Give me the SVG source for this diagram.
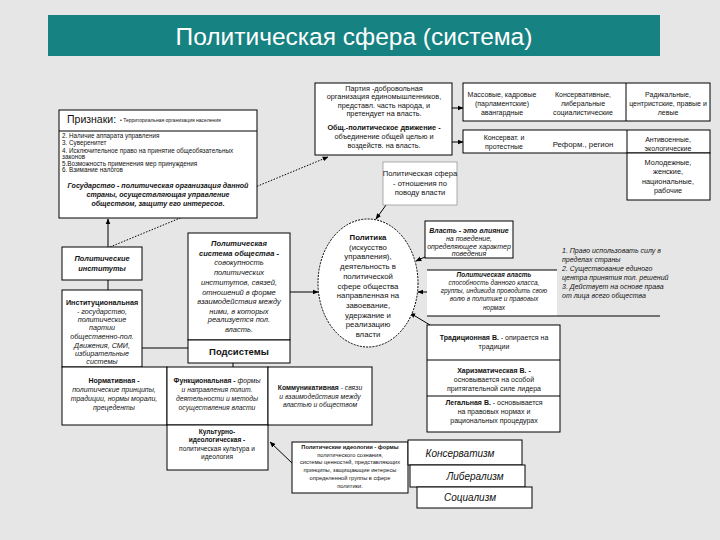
<svg xmlns="http://www.w3.org/2000/svg" width="720" height="540" viewBox="0 0 720 540">
<defs>
<marker id="ah" viewBox="0 0 10 10" refX="9" refY="5" markerWidth="6" markerHeight="6" orient="auto"><path d="M0,1 L10,5 L0,9 z" fill="#000"/></marker>
<style>
.b{fill:#fff;stroke:#000;stroke-width:1}
.w{fill:#fff;stroke:none}
.l{stroke:#000;stroke-width:1;fill:none}
.a{stroke:#000;stroke-width:1;fill:none;marker-end:url(#ah)}
.dt{stroke-dasharray:1.5,1.5}
text{font-family:"Liberation Sans",Arial,sans-serif;fill:#111}
.t{font-size:7px;text-anchor:middle}
.s{font-size:6.5px}
.i{font-style:italic}
.bd{font-weight:bold}
</style>
</defs>
<rect width="720" height="540" fill="#e6e6e6"/>
<g id="title">
<rect x="48" y="15" width="612" height="41" fill="#178282"/>
<text x="354" y="45" font-size="24.5" style="fill:#fff" text-anchor="middle">Политическая сфера (система)</text>
</g>
<g id="connectors">
<path class="a dt" d="M110,247 L328,157"/>
<path class="a" d="M452,108 L463,108"/>
<path class="a" d="M452,142 L463,142"/>
<path class="a" d="M108,247 L108,219"/>
<path class="l" d="M108,280 L108,290"/>
<path class="l" d="M142,348 L188,348"/>
<path class="a" d="M290,292 L318,292"/>
<path class="l" d="M233,363 L233,367"/>
<path class="a" d="M386,205 L376,219"/>
<path class="a" d="M425,257 L416,261"/>
<path class="a" d="M427,292 L418,292"/>
<path class="a" d="M430,325 L410,313"/>
<path class="a" d="M292,463 L270,442"/>
</g>
<g id="party">
<rect class="b" x="315" y="83" width="137" height="72"/>
<text class="t" style="font-size:7.3px"><tspan x="384" y="90.5">Партия -добровольная</tspan><tspan x="384" y="99">организация единомышленников,</tspan><tspan x="384" y="107.5">представл. часть народа, и</tspan><tspan x="384" y="115.5">претендует на власть.</tspan><tspan x="384" y="129.5" font-weight="bold">Общ.-политическое движение -</tspan><tspan x="384" y="138.5">объединение общей целью и</tspan><tspan x="384" y="148">воздейств. на власть.</tspan></text>
</g>
<g id="party-types">
<rect class="b" x="463" y="83" width="247" height="38"/>
<path class="l" d="M626,83 L626,121"/>
<text class="t"><tspan x="502" y="97">Массовые, кадровые</tspan><tspan x="502" y="106">(парламентские)</tspan><tspan x="502" y="115">авангардные</tspan></text>
<text class="t"><tspan x="583" y="97">Консервативные,</tspan><tspan x="583" y="106">либеральные</tspan><tspan x="583" y="115">социалистические</tspan></text>
<text class="t"><tspan x="668" y="97">Радикальные,</tspan><tspan x="668" y="106">центристские, правые и</tspan><tspan x="668" y="115">левые</tspan></text>
</g>
<g id="movement-types">
<rect class="b" x="463" y="130" width="247" height="23"/>
<path class="l" d="M627,130 L627,153"/>
<text class="t"><tspan x="504" y="140">Консерват. и</tspan><tspan x="504" y="149">протестные</tspan></text>
<text class="t" style="font-size:7.8px"><tspan x="583" y="147">Реформ., регион</tspan></text>
<text class="t"><tspan x="668" y="142">Антивоенные,</tspan><tspan x="668" y="151">экологические</tspan></text>
<rect class="b" x="627" y="153" width="83" height="47"/>
<text class="t" style="font-size:7.3px"><tspan x="668" y="165">Молодежные,</tspan><tspan x="668" y="174">женские,</tspan><tspan x="668" y="184">национальные,</tspan><tspan x="668" y="193">рабочие</tspan></text>
</g>
<g id="sphere">
<rect x="383" y="162" width="74" height="43" fill="#fff" stroke="#999" stroke-width="0.8"/>
<text class="t" style="font-size:7.6px"><tspan x="420" y="176">Политическая сфера</tspan><tspan x="420" y="186">- отношения по</tspan><tspan x="420" y="195">поводу власти</tspan></text>
</g>
<g id="signs">
<rect class="b" x="59" y="110" width="198" height="108"/>
<path class="l" d="M59,131 L257,131"/>
<text x="67" y="123" font-size="10.5">Признаки:</text>
<text x="120" y="122" font-size="5">•  Территориальная организация населения</text>
<text class="s" style="font-size:6.3px"><tspan x="62" y="137.5">2. Наличие аппарата управления</tspan><tspan x="62" y="145">3. Суверенитет</tspan><tspan x="62" y="152.5">4. Исключительное право на принятие общеобязательных</tspan><tspan x="62" y="159">законов</tspan><tspan x="62" y="165.5">5.Возможность применения мер принуждения</tspan><tspan x="62" y="172">6. Взимание налогов</tspan></text>
<text class="t i bd" style="font-size:7.1px"><tspan x="158" y="188">Государство - политическая организация данной</tspan><tspan x="158" y="197">страны, осуществляющая управление</tspan><tspan x="158" y="206">обществом, защиту его интересов.</tspan></text>
</g>
<g id="institutes">
<rect class="b" x="62" y="247" width="80" height="33"/>
<text class="t i bd" style="font-size:7.4px"><tspan x="102" y="261">Политические</tspan><tspan x="102" y="271">институты</tspan></text>
</g>
<g id="institutional">
<rect class="b" x="62" y="290" width="80" height="77"/>
<text class="t" style="font-size:7.2px"><tspan x="102" y="304.5" font-weight="bold">Институциональная</tspan><tspan x="102" y="313.5" font-style="italic">- государство,</tspan><tspan x="102" y="321.5" font-style="italic">политические</tspan><tspan x="102" y="329.5" font-style="italic">партии</tspan><tspan x="102" y="338.5" font-style="italic">общественно-пол.</tspan><tspan x="102" y="347.5" font-style="italic">Движения, СМИ,</tspan><tspan x="102" y="355.5" font-style="italic">избирательные</tspan><tspan x="102" y="364" font-style="italic">системы</tspan></text>
</g>
<g id="polsystem">
<rect class="b" x="188" y="233" width="102" height="107"/>
<text class="t i" style="font-size:7.5px"><tspan x="239" y="245.5" font-weight="bold">Политическая</tspan><tspan x="239" y="255.5" font-weight="bold">система общества -</tspan><tspan x="239" y="264.5">совокупность</tspan><tspan x="239" y="274.5">политических</tspan><tspan x="239" y="284.5">институтов, связей,</tspan><tspan x="239" y="294.5">отношений в форме</tspan><tspan x="239" y="303.5">взаимодействия между</tspan><tspan x="239" y="313.5">ними, в которых</tspan><tspan x="239" y="321.5">реализуется пол.</tspan><tspan x="239" y="331.5">власть.</tspan></text>
</g>
<g id="subsystems">
<rect class="b" x="188" y="340" width="102" height="23"/>
<text class="t bd" x="239" y="355" style="font-size:9.5px">Подсистемы</text>
</g>
<g id="politics">
<ellipse cx="368" cy="283" rx="50" ry="64" fill="#fff" stroke="#000" stroke-width="1" stroke-dasharray="2,1.2"/>
<text class="t" style="font-size:7.8px"><tspan x="368" y="240" font-weight="bold">Политика</tspan><tspan x="368" y="249.7">(искусство</tspan><tspan x="368" y="259.4">управления),</tspan><tspan x="368" y="269.1">деятельность в</tspan><tspan x="368" y="278.8">политической</tspan><tspan x="368" y="288.5">сфере общества</tspan><tspan x="368" y="298.2">направленная на</tspan><tspan x="368" y="307.9">завоевание,</tspan><tspan x="368" y="317.6">удержание и</tspan><tspan x="368" y="327.3">реализацию</tspan><tspan x="368" y="337">власти</tspan></text>
</g>
<g id="power">
<rect class="b" x="425" y="221" width="88" height="37"/>
<text class="t i" style="font-size:7px"><tspan x="469" y="232.5" font-weight="bold">Власть - это влияние</tspan><tspan x="469" y="240.5">на поведение,</tspan><tspan x="469" y="248.5">определяющее характер</tspan><tspan x="469" y="256">поведения</tspan></text>
</g>
<g id="polpower">
<rect class="w" x="427" y="270" width="130" height="46"/>
<path class="l" d="M427,270 L557,270 M427,316 L660,316"/>
<text class="t i" style="font-size:6.5px"><tspan x="494" y="277" font-weight="bold">Политическая власть</tspan><tspan x="494" y="285">способность данного класса,</tspan><tspan x="494" y="293">группы, индивида проводить свою</tspan><tspan x="494" y="301">волю в политике и правовых</tspan><tspan x="494" y="310">нормах</tspan></text>
</g>
<g id="features">
<text class="i" style="font-size:7px"><tspan x="562" y="252.5">1. Право использовать силу в</tspan><tspan x="562" y="261.5">пределах страны</tspan><tspan x="562" y="270.5">2. Существование единого</tspan><tspan x="562" y="279.5">центра принятия пол. решений</tspan><tspan x="562" y="288.5">3. Действует на основе права</tspan><tspan x="562" y="297.5">от лица всего общества</tspan></text>
</g>
<g id="power-types">
<rect class="b" x="427" y="325" width="133" height="107"/>
<path class="l" d="M427,360 L560,360 M427,396 L560,396"/>
<text class="t" style="font-size:7px"><tspan x="494" y="339.5"><tspan font-weight="bold">Традиционная В.</tspan> - опирается на</tspan><tspan x="494" y="348.5">традиции</tspan><tspan x="494" y="372.5" font-weight="bold">Харизматическая В. -</tspan><tspan x="494" y="381.5">основывается на особой</tspan><tspan x="494" y="390.5">притягательной силе лидера</tspan><tspan x="494" y="404.5"><tspan font-weight="bold">Легальная В.</tspan> - основывается</tspan><tspan x="494" y="413.5">на правовых нормах и</tspan><tspan x="494" y="422.5">рациональных процедурах</tspan></text>
</g>
<g id="normative">
<rect class="b" x="62" y="367" width="105" height="58"/>
<text class="t i" style="font-size:7px"><tspan x="114" y="382.5" font-weight="bold" font-style="normal">Нормативная -</tspan><tspan x="114" y="391.5">политические принципы,</tspan><tspan x="114" y="400.5">традиции, нормы морали,</tspan><tspan x="114" y="409.5">прецеденты</tspan></text>
</g>
<g id="functional">
<rect class="b" x="167" y="367" width="101" height="58"/>
<text class="t i" style="font-size:6.8px"><tspan x="217" y="382.5"><tspan font-weight="bold" font-style="normal">Функциональная -</tspan> формы</tspan><tspan x="217" y="391.5">и направления полит.</tspan><tspan x="217" y="400.5">деятельности и методы</tspan><tspan x="217" y="409.5">осуществления власти</tspan></text>
</g>
<g id="communicative">
<rect class="b" x="268" y="367" width="104" height="58"/>
<text class="t i" style="font-size:6.8px"><tspan x="320" y="389.5"><tspan font-weight="bold" font-style="normal">Коммуникативная</tspan> - связи</tspan><tspan x="320" y="398.5">и взаимодействия между</tspan><tspan x="320" y="406.5">властью и обществом</tspan></text>
</g>
<g id="cultural">
<rect class="b" x="167" y="425" width="101" height="45"/>
<text class="t" style="font-size:6.6px"><tspan x="217" y="433.5" font-weight="bold">Культурно-</tspan><tspan x="217" y="442" font-weight="bold">идеологическая -</tspan><tspan x="217" y="450.5">политическая культура и</tspan><tspan x="217" y="459">идеология</tspan></text>
</g>
<g id="ideology">
<rect class="b" x="292" y="442" width="116" height="51"/>
<text class="t" style="font-size:5.7px"><tspan x="350" y="449" font-weight="bold">Политические идеологии - формы</tspan><tspan x="350" y="456.5">политического сознания,</tspan><tspan x="350" y="464">системы ценностей, представляющих</tspan><tspan x="350" y="472">принципы, защищающие интересы</tspan><tspan x="350" y="480">определенной группы в сфере</tspan><tspan x="350" y="488">политики.</tspan></text>
</g>
<g id="conservatism">
<rect class="b" x="408" y="440" width="114" height="25"/>
<text class="t i" x="460" y="456.5" style="font-size:10px">Консерватизм</text>
</g>
<g id="liberalism">
<rect class="b" x="410" y="465" width="115" height="22"/>
<text class="t i" x="475" y="480" style="font-size:10px">Либерализм</text>
</g>
<g id="socialism">
<rect class="b" x="417" y="487" width="115" height="21"/>
<text class="t i" x="470" y="501" style="font-size:10px">Социализм</text>
</g>
</svg>
